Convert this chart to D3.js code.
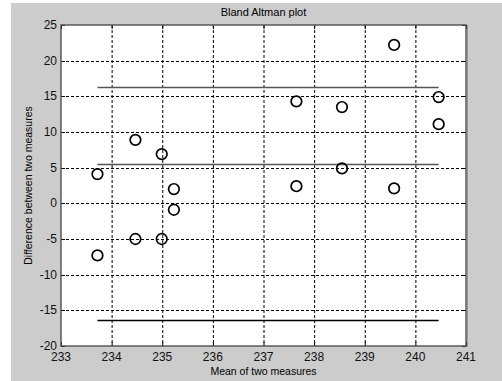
<!DOCTYPE html>
<html><head><meta charset="utf-8">
<script src="https://cdn.jsdelivr.net/npm/d3@7"></script>
<style>html,body{margin:0;padding:0;background:#fff}svg{display:block}text{font-family:"Liberation Sans",Arial,sans-serif}</style>
</head><body>
<script>
// Data
const meanValues = [233.72, 233.72, 234.47, 234.47, 234.99, 234.99, 235.23, 235.23, 237.65, 237.65, 238.55, 238.55, 239.58, 239.58, 240.46, 240.46];
const diffValues = [4.1, -7.3, 8.9, -5.0, 6.9, -5.0, 2.0, -0.9, 14.3, 2.4, 13.5, 4.9, 22.2, 2.1, 14.9, 11.1];
const limitValues = [16.35, 5.55, -16.4];   // upper limit, mean difference, lower limit
const limitColors = ["#555", "#555", "#000"];
const xTicks = [233, 234, 235, 236, 237, 238, 239, 240, 241];
const yTicks = [-20, -15, -10, -5, 0, 5, 10, 15, 20, 25];
const titleText = "Bland Altman plot";
const xLabelText = "Mean of two measures";
const yLabelText = "Difference between two measures";

const W = 502, H = 381;
const L = 61, R = 466, T = 25, B = 346;
const svg = d3.select("body").append("svg").attr("width", W).attr("height", H);
svg.append("rect").attr("x", 11).attr("y", 3).attr("width", W - 11).attr("height", H - 3).attr("fill", "#cccccc");
svg.append("rect").attr("x", L).attr("y", T).attr("width", R - L).attr("height", B - T).attr("fill", "#fff");

const x = d3.scaleLinear().domain([233, 241]).range([L, R]);
const y = d3.scaleLinear().domain([-20, 25]).range([B, T]);

// grid
const g = svg.append("g");
g.selectAll(".vg").data(xTicks.slice(1, -1)).join("line")
  .attr("x1", d => x(d) + 0.5).attr("x2", d => x(d) + 0.5).attr("y1", T).attr("y2", B)
  .attr("stroke", "#000").attr("stroke-width", 1).attr("stroke-dasharray", "3,2");
g.selectAll(".hg").data(yTicks.slice(1, -1)).join("line")
  .attr("y1", d => Math.round(y(d)) + 0.5).attr("y2", d => Math.round(y(d)) + 0.5).attr("x1", L).attr("x2", R)
  .attr("stroke", "#000").attr("stroke-width", 1).attr("stroke-dasharray", "3,2");

// inward ticks
const tl = 4;
g.selectAll(".xt").data(xTicks).join("line")
  .attr("x1", d => x(d) + 0.5).attr("x2", d => x(d) + 0.5).attr("y1", B).attr("y2", B - tl).attr("stroke", "#000");
g.selectAll(".xt2").data(xTicks).join("line")
  .attr("x1", d => x(d) + 0.5).attr("x2", d => x(d) + 0.5).attr("y1", T).attr("y2", T + tl).attr("stroke", "#000");
g.selectAll(".yt").data(yTicks).join("line")
  .attr("y1", d => Math.round(y(d)) + 0.5).attr("y2", d => Math.round(y(d)) + 0.5).attr("x1", L).attr("x2", L + tl).attr("stroke", "#000");
g.selectAll(".yt2").data(yTicks).join("line")
  .attr("y1", d => Math.round(y(d)) + 0.5).attr("y2", d => Math.round(y(d)) + 0.5).attr("x1", R).attr("x2", R - tl).attr("stroke", "#000");

// limit lines
const xMin = d3.min(meanValues), xMax = d3.max(meanValues);
g.selectAll(".lim").data(limitValues).join("line")
  .attr("x1", x(xMin)).attr("x2", x(xMax))
  .attr("y1", d => Math.round(y(d)) + 0.5).attr("y2", d => Math.round(y(d)) + 0.5)
  .attr("stroke", (d, i) => limitColors[i]).attr("stroke-width", 1.3);

// points
g.selectAll(".pt").data(meanValues).join("circle")
  .attr("cx", (d, i) => x(d)).attr("cy", (d, i) => y(diffValues[i]))
  .attr("r", 5.3).attr("fill", "none").attr("stroke", "#000").attr("stroke-width", 1.7);

// frame
svg.append("rect").attr("x", L).attr("y", T).attr("width", R - L).attr("height", B - T)
  .attr("fill", "none").attr("stroke", "#505050").attr("stroke-width", 1.4);
svg.append("line").attr("x1", R + 1.5).attr("x2", R + 1.5).attr("y1", T).attr("y2", B + 1).attr("stroke", "#9a9a9a").attr("stroke-width", 1);

// tick labels
svg.selectAll(".xl").data(xTicks).join("text")
  .attr("x", d => x(d)).attr("y", B + 15).attr("text-anchor", "middle")
  .attr("font-size", "12px").attr("fill", "#111").text(d => d);
svg.selectAll(".yl").data(yTicks).join("text")
  .attr("x", L - 4).attr("y", d => y(d) + 4).attr("text-anchor", "end")
  .attr("font-size", "12px").attr("fill", "#111").text(d => d);

// titles
svg.append("text").attr("x", (L + R) / 2).attr("y", 16).attr("text-anchor", "middle")
  .attr("font-size", "11px").attr("fill", "#000").text(titleText);
svg.append("text").attr("x", (L + R) / 2).attr("y", 375).attr("text-anchor", "middle")
  .attr("font-size", "10.5px").attr("fill", "#000").text(xLabelText);
svg.append("text").attr("transform", `translate(32,${(T + B) / 2}) rotate(-90)`).attr("text-anchor", "middle")
  .attr("font-size", "10.5px").attr("fill", "#000").text(yLabelText);
</script>
</body></html>
